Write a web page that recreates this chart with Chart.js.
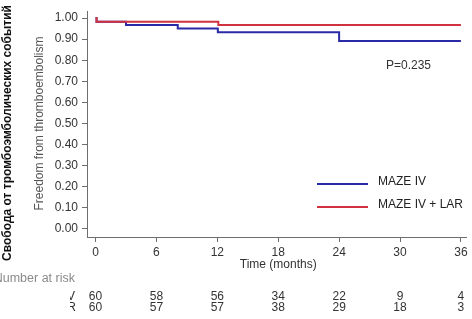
<!DOCTYPE html>
<html>
<head>
<meta charset="utf-8">
<script src="https://cdn.jsdelivr.net/npm/chart.js@4/dist/chart.umd.min.js"></script>
<style>
html,body{margin:0;padding:0;background:#fff;}
#wrap{width:472px;height:319px;position:relative;}
</style>
</head>
<body>
<div id="wrap"><canvas id="c" width="472" height="319"></canvas></div>
<script>
// ---- data ----
const seriesNames = ["MAZE IV", "MAZE IV + LAR"];
const mazeMonths   = [0, 0.1, 3.0, 8.1, 12.05, 24.0, 36];
const mazeSurv     = [1.00, 0.983, 0.967, 0.950, 0.933, 0.891, 0.891];
const laaMonths    = [0, 0.1, 12.1, 36];
const laaSurv      = [1.00, 0.983, 0.967, 0.967];
const xTickValues  = [0, 6, 12, 18, 24, 30, 36];
const yTickValues  = [0, 0.1, 0.2, 0.3, 0.4, 0.5, 0.6, 0.7, 0.8, 0.9, 1.0];
const atRiskMaze   = [60, 58, 56, 34, 22, 9, 4];
const atRiskLaa    = [60, 57, 57, 38, 29, 18, 3];
const pValueText   = "P=0.235";
const yTitleOuter  = "Свобода от тромбоэмболических событий";
const yTitleInner  = "Freedom from thromboembolism";
const xTitle       = "Time (months)";
const riskTitle    = "Number at risk";

const blue = "#2a2aa6";
const red  = "#d0323f";
const axisColor = "#6e6e6e";
const textColor = "#333333";
const FONT = "'Liberation Sans', Arial, sans-serif";

function toPts(xs, ys){ return xs.map((x,i)=>({x:x, y:ys[i]})); }

const overlay = {
  id: 'overlay',
  afterDraw(chart){
    const ctx = chart.ctx;
    const xs = chart.scales.x, ys = chart.scales.y;
    ctx.save();
    // outer russian title
    ctx.save();
    ctx.translate(8, 133);
    ctx.rotate(-Math.PI/2);
    ctx.font = "bold 12px " + FONT;
    ctx.fillStyle = "#111";
    ctx.textAlign = "center"; ctx.textBaseline = "middle";
    ctx.fillText(yTitleOuter, 0, 0);
    ctx.restore();
    // inner english title
    ctx.save();
    ctx.translate(40, (ys.getPixelForValue(0)+ys.getPixelForValue(1))/2);
    ctx.rotate(-Math.PI/2);
    ctx.font = "12px " + FONT;
    ctx.fillStyle = "#555";
    ctx.textAlign = "center"; ctx.textBaseline = "middle";
    ctx.fillText(yTitleInner, 0, 0);
    ctx.restore();
    // x title
    ctx.font = "12px " + FONT;
    ctx.fillStyle = textColor;
    ctx.textAlign = "center"; ctx.textBaseline = "middle";
    const midX = (xs.getPixelForValue(0)+xs.getPixelForValue(36))/2;
    ctx.fillText(xTitle, midX, 265);
    // p value
    ctx.textAlign = "left";
    ctx.fillText(pValueText, 386, 66);
    // legend
    const legend = [[seriesNames[0], blue, 184],[seriesNames[1], red, 207]];
    legend.forEach(([t,c,y])=>{
      ctx.strokeStyle = c; ctx.lineWidth = 2;
      ctx.beginPath(); ctx.moveTo(317, y); ctx.lineTo(368, y); ctx.stroke();
      ctx.fillStyle = "#222"; ctx.textAlign = "left"; ctx.textBaseline = "middle";
      ctx.font = "12px " + FONT;
      ctx.fillText(t, 378, y-2);
    });
    // number at risk title (cut at left)
    ctx.font = "12.5px " + FONT;
    ctx.fillStyle = "#8a8a8a";
    ctx.textAlign = "right";
    ctx.fillText(riskTitle, 75, 279);
    // row labels, clipped
    ctx.save();
    ctx.beginPath(); ctx.rect(70, 285, 20, 34); ctx.clip();
    ctx.font = "12px " + FONT;
    ctx.fillStyle = textColor;
    ctx.fillText(seriesNames[0], 75, 297);
    ctx.fillText(seriesNames[1], 76, 308);
    ctx.restore();
    // at-risk numbers
    ctx.font = "12px " + FONT;
    ctx.fillStyle = textColor;
    ctx.textAlign = "center";
    xTickValues.forEach((v,i)=>{
      const px = xs.getPixelForValue(v);
      ctx.fillText(String(atRiskMaze[i]), px, 297);
      ctx.fillText(String(atRiskLaa[i]), px, 308);
    });
    ctx.restore();
  }
};

new Chart(document.getElementById('c'), {
  type: 'line',
  data: {
    datasets: [
      { label: seriesNames[1], data: toPts(laaMonths, laaSurv), borderColor: red, borderWidth: 2, stepped: true, pointRadius: 0, fill: false, order: 0 },
      { label: seriesNames[0], data: toPts(mazeMonths, mazeSurv), borderColor: blue, borderWidth: 2, stepped: true, pointRadius: 0, fill: false, order: 1 }
    ]
  },
  options: {
    responsive: false,
    animation: false,
    devicePixelRatio: 1,
    layout: { padding: { top: 0, right: 6, left: 0, bottom: 0 } },
    plugins: { legend: { display: false }, tooltip: { enabled: false } },
    scales: {
      x: {
        type: 'linear',
        min: -0.84, max: 36.5,
        afterBuildTicks: s => { s.ticks = xTickValues.map(v=>({value:v})); },
        afterFit: s => { s.height = 82; },
        grid: { display: true, drawOnChartArea: false, drawTicks: true, tickLength: 5, color: axisColor, lineWidth: 1 },
        border: { display: true, color: axisColor, width: 1 },
        ticks: { color: textColor, font: { family: FONT, size: 12 }, padding: 3, maxRotation: 0, autoSkip: false, callback: v => String(v) }
      },
      y: {
        type: 'linear',
        min: -0.038, max: 1.0325,
        afterBuildTicks: s => { s.ticks = yTickValues.map(v=>({value:v})); },
        afterFit: s => { s.width = 87; },
        grid: { display: true, drawOnChartArea: false, drawTicks: true, tickLength: 5, color: axisColor, lineWidth: 1 },
        border: { display: true, color: axisColor, width: 1 },
        ticks: { color: textColor, font: { family: FONT, size: 12 }, padding: 4, autoSkip: false, callback: v => Number(v).toFixed(2) }
      }
    }
  },
  plugins: [overlay]
});
</script>
</body>
</html>
